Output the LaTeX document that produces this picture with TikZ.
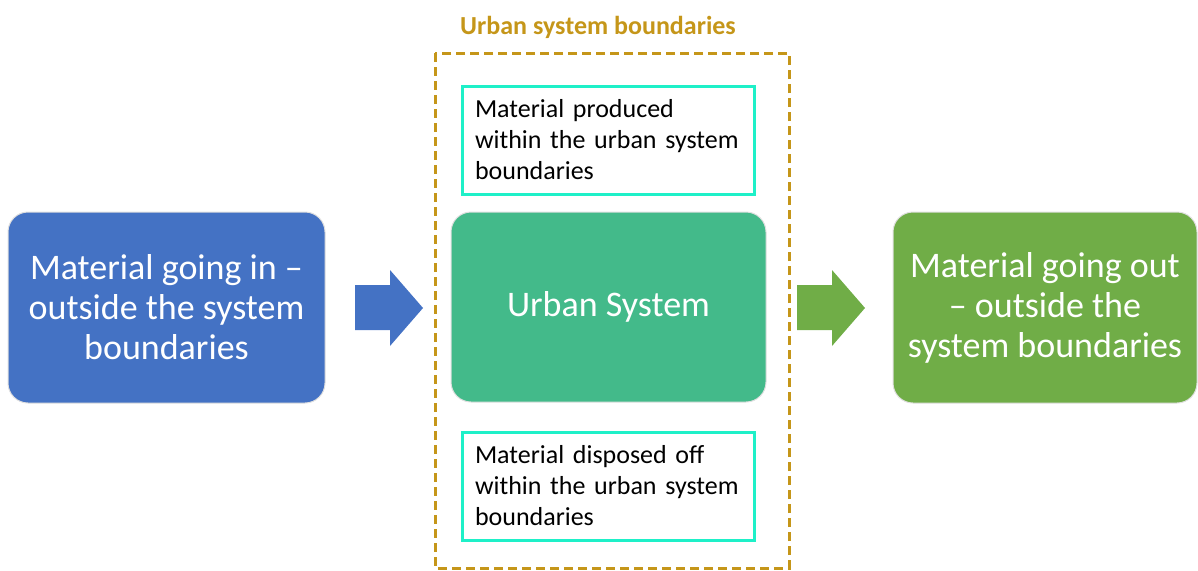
\documentclass[tikz,border=0pt]{standalone}
\usepackage{fontspec}
\setmainfont{Carlito}
\definecolor{inblue}{RGB}{68,114,196}
\definecolor{sysgreen}{RGB}{67,186,138}
\definecolor{outgreen}{RGB}{112,173,71}
\definecolor{bordergold}{RGB}{197,150,25}
\definecolor{aqua}{RGB}{30,240,200}
\tikzset{
  bigbox/.style={rounded corners=20pt, draw=gray!25, line width=1pt, text=white,
    align=center, minimum height=191pt, inner sep=0pt,
    font=\fontsize{36}{40}\selectfont},
  smallbox/.style={draw=aqua, line width=3pt, fill=white, minimum width=292pt,
    minimum height=108pt, text width=266pt, inner xsep=13pt, inner ysep=0pt,
    align=left, font=\fontsize{26}{31}\selectfont}
}
\begin{document}
\begin{tikzpicture}[x=1pt, y=-1pt]
\useasboundingbox (0,0) rectangle (1198,570);
% system boundary
\draw[bordergold, line width=3pt, dash pattern=on 9pt off 5pt] (435,53) rectangle (789,568);
\node (title) at (598,27) [text=bordergold, font=\fontsize{26}{30}\selectfont\bfseries] {Urban system boundaries};
% boxes
\node (in) at (166.5,307.5) [bigbox, fill=inblue, minimum width=317pt] {Material going in --\\outside the system\\boundaries};
\node (urban) at (608.5,307) [bigbox, fill=sysgreen, minimum width=315pt, minimum height=190pt] {Urban System};
\node (out) at (1045,307.5) [bigbox, fill=outgreen, minimum width=304pt] {Material going out\\-- outside the\\system boundaries};
\node (produced) at (608,140) [smallbox] {Material produced\\within the urban system\\boundaries};
\node (disposed) at (608,486) [smallbox] {Material disposed off\\within the urban system\\boundaries};
% block arrows
\fill[inblue] (355,285) -- ++(35,0) -- ++(0,-15) -- ++(33,38) -- ++(-33,38) -- ++(0,-16) -- ++(-35,0) -- cycle;
\fill[outgreen] (797,285) -- ++(35,0) -- ++(0,-15) -- ++(33,38) -- ++(-33,38) -- ++(0,-16) -- ++(-35,0) -- cycle;
\end{tikzpicture}
\end{document}
